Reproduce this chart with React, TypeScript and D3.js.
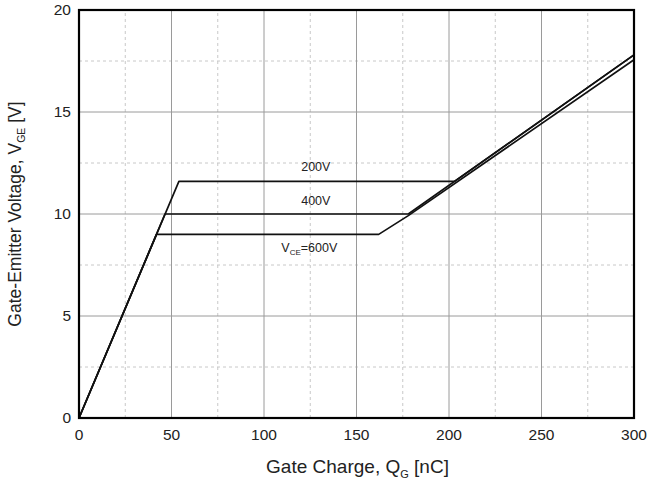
import * as d3 from "d3";

// Gate charge curves: [Q_G in nC, V_GE in V]
const curve200V: [number, number][] = [
  [0, 0],
  [54, 11.6],
  [203, 11.6],
  [300, 17.8],
];
const curve400V: [number, number][] = [
  [0, 0],
  [46.5, 10.0],
  [178, 10.0],
  [300, 17.8],
];
const curve600V: [number, number][] = [
  [0, 0],
  [41.9, 9.0],
  [162, 9.0],
  [178, 9.92],
  [300, 17.56],
];

const xTicks = [0, 50, 100, 150, 200, 250, 300];
const yTicks = [0, 5, 10, 15, 20];
const xMinor = [25, 75, 125, 175, 225, 275];
const yMinor = [2.5, 7.5, 12.5, 17.5];

const width = 650;
const height = 486;
const margin = { top: 10, right: 16, bottom: 68, left: 79 };

export default function App() {
  const x = d3
    .scaleLinear()
    .domain([0, 300])
    .range([margin.left, width - margin.right]);
  const y = d3
    .scaleLinear()
    .domain([0, 20])
    .range([height - margin.bottom, margin.top]);

  const line = d3
    .line<[number, number]>()
    .x((d) => x(d[0]))
    .y((d) => y(d[1]));

  const font = "'Liberation Sans', Arial, sans-serif";
  const [x0, x1] = x.range();
  const [y0, y1] = y.range();

  return (
    <svg
      width={width}
      height={height}
      style={{ position: "absolute", left: 0, top: 0, background: "#fff" }}
      fontFamily={font}
    >
      {/* minor grid */}
      {xMinor.map((t) => (
        <line key={"xm" + t} x1={x(t)} x2={x(t)} y1={y0} y2={y1} stroke="#c8c8c8" strokeDasharray="3,3" />
      ))}
      {yMinor.map((t) => (
        <line key={"ym" + t} x1={x0} x2={x1} y1={y(t)} y2={y(t)} stroke="#c8c8c8" strokeDasharray="3,3" />
      ))}
      {/* major grid */}
      {xTicks.map((t) => (
        <line key={"xg" + t} x1={x(t)} x2={x(t)} y1={y0} y2={y1} stroke="#9a9a9a" strokeWidth={1} />
      ))}
      {yTicks.map((t) => (
        <line key={"yg" + t} x1={x0} x2={x1} y1={y(t)} y2={y(t)} stroke="#9a9a9a" strokeWidth={1} />
      ))}

      {/* curves */}
      {[curve200V, curve400V, curve600V].map((c, i) => (
        <path key={i} d={line(c) ?? ""} fill="none" stroke="#111" strokeWidth={1.7} strokeLinejoin="round" />
      ))}

      {/* frame */}
      <rect x={x0} y={y1} width={x1 - x0} height={y0 - y1} fill="none" stroke="#000" strokeWidth={2.2} />

      {/* curve labels */}
      <text x={x(128)} y={y(12.1)} fontSize={12.5} textAnchor="middle" fill="#222">
        200V
      </text>
      <text x={x(128)} y={y(10.45)} fontSize={12.5} textAnchor="middle" fill="#222">
        400V
      </text>
      <text x={x(124.5)} y={y(8.15)} fontSize={12.5} textAnchor="middle" fill="#222">
        V<tspan fontSize={8} dy={3}>CE</tspan>
        <tspan dy={-3}>=600V</tspan>
      </text>

      {/* tick labels */}
      {xTicks.map((t) => (
        <text key={"xt" + t} x={x(t)} y={y0 + 22} fontSize={15.5} textAnchor="middle" fill="#222">
          {t}
        </text>
      ))}
      {yTicks.map((t) => (
        <text key={"yt" + t} x={x0 - 8} y={y(t) + 5} fontSize={15.5} textAnchor="end" fill="#222">
          {t}
        </text>
      ))}

      {/* axis titles */}
      <text x={(x0 + x1) / 2 + 1} y={473} fontSize={19} textAnchor="middle" fill="#222">
        Gate Charge, Q<tspan fontSize={11} dy={5}>G</tspan>
        <tspan dy={-5}> [nC]</tspan>
      </text>
      <text
        transform={`translate(21, ${(y0 + y1) / 2}) rotate(-90)`}
        fontSize={17.5}
        textAnchor="middle"
        fill="#222"
      >
        Gate-Emitter Voltage, V<tspan fontSize={10.5} dy={4}>GE</tspan>
        <tspan dy={-4}> [V]</tspan>
      </text>
    </svg>
  );
}
